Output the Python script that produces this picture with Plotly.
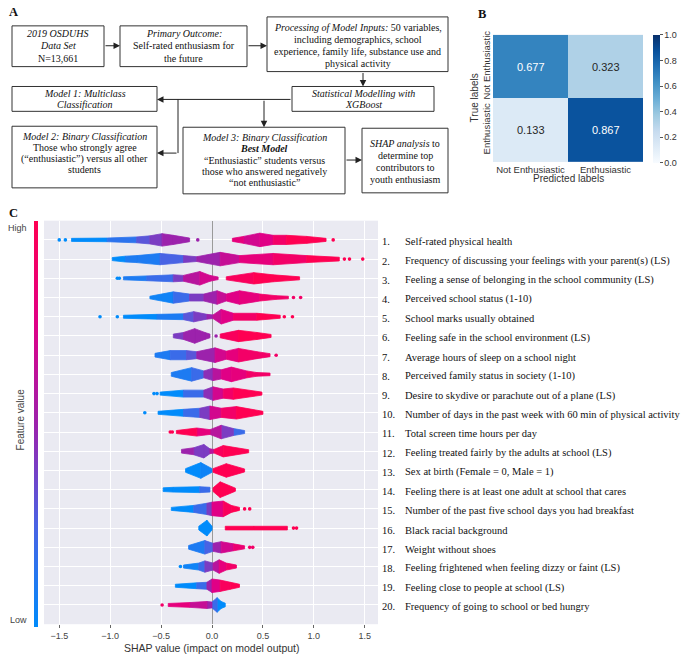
import plotly.graph_objects as go
from plotly.colors import sample_colorscale

W, H = 682, 655

# ---------------- data ----------------
# Panel B: normalised confusion matrix
cm_labels = ["Not Enthusiastic", "Enthusiastic"]
cm_values = [[0.677, 0.323], [0.133, 0.867]]
cm_ticks = [0.0, 0.2, 0.4, 0.6, 0.8, 1.0]

# Panel C: SHAP summary (beeswarm), top 20 features
feature_names = [
    "Self-rated physical health",
    "Frequency of discussing your feelings with your parent(s) (LS)",
    "Feeling a sense of belonging in the school community (LS)",
    "Perceived school status (1-10)",
    "School marks usually obtained",
    "Feeling safe in the school environment (LS)",
    "Average hours of sleep on a school night",
    "Perceived family status in society (1-10)",
    "Desire to skydive or parachute out of a plane (LS)",
    "Number of days in the past week with 60 min of physical activity",
    "Total screen time hours per day",
    "Feeling treated fairly by the adults at school (LS)",
    "Sex at birth (Female = 0, Male = 1)",
    "Feeling there is at least one adult at school that cares",
    "Number of the past five school days you had breakfast",
    "Black racial background",
    "Weight without shoes",
    "Feeling frightened when feeling dizzy or faint (LS)",
    "Feeling close to people at school (LS)",
    "Frequency of going to school or bed hungry",
]

# each feature: clusters of knots [shap value, point density (0-7), mean feature value (0 low .. 1 high)]
swarm_clusters = [
    [[[-1.38, 1.2, 0], [-1.03, 1.5, 0.05], [-0.74, 2.5, 0.25], [-0.61, 3.5, 0.35], [-0.49, 5.5, 0.45], [-0.38, 4, 0.5], [-0.22, 1.5, 0.55]],
     [[0.20, 1.2, 0.8], [0.31, 3, 0.75], [0.47, 6, 0.7], [0.60, 4, 0.85], [0.73, 4, 0.95], [0.93, 3, 1.0], [1.12, 1.2, 1]]],
    [[[-0.98, 1.2, 0], [-0.85, 2.5, 0.05], [-0.74, 3, 0.1], [-0.51, 5, 0.15], [-0.28, 3, 0.35], [-0.15, 2, 0.45], [0.08, 6, 0.55],
      [0.27, 3, 0.75], [0.60, 5, 0.85], [0.93, 3, 1], [1.25, 1.5, 1]]],
    [[[-0.87, 1.2, 0.05], [-0.64, 2, 0.15], [-0.38, 3, 0.3], [-0.28, 2.5, 0.45], [-0.12, 6, 0.7], [-0.02, 2.5, 0.7], [0.06, 1, 0.7]],
     [[0.14, 1.2, 0.9], [0.41, 5, 1], [0.60, 3, 1], [0.86, 1.2, 1]]],
    [[[-0.61, 1, 0], [-0.38, 5, 0.1], [-0.22, 3, 0.35], [-0.08, 3, 0.45], [0.05, 6, 0.6], [0.14, 3, 0.7], [0.27, 6, 0.8],
      [0.47, 3, 0.85], [0.63, 1.5, 0.9], [0.75, 1, 0.9]]],
    [[[-0.87, 1.2, 0], [-0.54, 2, 0.05], [-0.28, 2.5, 0.2], [-0.18, 4.5, 0.4], [-0.05, 2, 0.45], [0.01, 1.5, 0.6], [0.09, 6.5, 0.7],
      [0.21, 3, 0.85], [0.44, 3, 1], [0.67, 1.2, 1]]],
    [[[-0.38, 1.5, 0.4], [-0.28, 3, 0.45], [-0.17, 6.5, 0.5], [-0.07, 3, 0.5], [-0.02, 1.5, 0.5]],
     [[0.08, 1.5, 0.9], [0.26, 5, 1], [0.44, 3, 1], [0.58, 1.2, 1]]],
    [[[-0.56, 1.5, 0.05], [-0.41, 4, 0.1], [-0.25, 4, 0.25], [-0.15, 3, 0.4], [0.03, 6.5, 0.6], [0.14, 3.5, 0.75], [0.26, 6, 0.85],
      [0.44, 3, 0.9], [0.57, 1.2, 0.9]]],
    [[[-0.40, 1.5, 0.05], [-0.20, 6, 0.1], [-0.08, 3, 0.35], [0.01, 5.5, 0.55], [0.09, 4, 0.7], [0.19, 6.5, 0.8], [0.34, 3, 0.85],
      [0.44, 1.5, 0.9], [0.57, 1, 0.9]]],
    [[[-0.51, 1.2, 0], [-0.28, 3, 0.05], [-0.08, 3, 0.3], [0.01, 6, 0.6], [0.11, 4, 0.85], [0.21, 5, 0.95], [0.49, 1.2, 1]]],
    [[[-0.53, 1.2, 0], [-0.28, 3, 0.05], [-0.12, 4, 0.3], [-0.02, 6, 0.55], [0.09, 4, 0.8], [0.24, 5.5, 0.95], [0.50, 1.2, 1]]],
    [[[-0.35, 1.2, 1], [-0.15, 3.5, 0.95], [-0.02, 2, 0.7], [0.09, 6, 0.5], [0.21, 3, 0.3], [0.32, 1.2, 0.15]]],
    [[[-0.30, 1.5, 0.5], [-0.18, 3, 0.45], [-0.08, 6, 0.4], [-0.02, 2, 0.35], [0.02, 1.5, 0.9], [0.11, 5, 1], [0.36, 1.2, 1]]],
    [[[-0.26, 1.5, 0], [-0.11, 7, 0], [0.0, 1.5, 0.1]],
     [[0.01, 1.5, 1], [0.14, 6, 1], [0.32, 1.2, 1]]],
    [[[-0.48, 1.5, 0], [-0.38, 2, 0], [-0.12, 2.5, 0.05], [-0.02, 2, 0.3]],
     [[0.01, 1.5, 1], [0.08, 7, 1], [0.23, 1.2, 1]]],
    [[[-0.40, 1.2, 0], [-0.18, 3, 0.05], [-0.05, 5, 0.3], [0.0, 6, 0.55], [0.11, 7, 0.9], [0.19, 3, 1], [0.27, 1.2, 1]]],
    [[[-0.13, 1.5, 0], [-0.05, 7, 0], [0.0, 1.5, 0]],
     [[0.13, 1.5, 1], [0.41, 1.5, 1], [0.74, 1.5, 1]]],
    [[[-0.23, 1.5, 0.05], [-0.07, 6, 0.15], [0.01, 3.5, 0.35], [0.09, 5, 0.6], [0.21, 3, 0.8], [0.32, 1.2, 0.9]]],
    [[[-0.28, 1.2, 0], [-0.13, 3, 0.1], [-0.07, 5, 0.3], [0.01, 3, 0.5], [0.07, 6, 0.75], [0.14, 3, 0.85], [0.24, 1.2, 0.9]]],
    [[[-0.36, 1.2, 0], [-0.15, 2.5, 0.05], [-0.05, 3, 0.35], [0.0, 6, 0.6], [0.08, 5, 0.9], [0.18, 3, 1], [0.27, 1.2, 1]]],
    [[[-0.43, 1.2, 0.9], [-0.22, 2, 0.75], [-0.05, 3, 0.55], [0.0, 2.5, 0.4], [0.05, 6.5, 0], [0.09, 3, 0], [0.13, 1.5, 0]]],
]

# isolated points per feature: [shap value, feature value]
swarm_outliers = [
    [[-1.50, 0], [-1.44, 0], [-0.14, 0.5], [1.19, 1]],
    [[1.30, 1], [1.35, 1], [1.48, 1]],
    [[-0.93, 0], [-0.91, 0]],
    [[0.80, 0.9], [0.87, 0.9]],
    [[-1.10, 0], [-0.93, 0], [0.71, 1], [0.79, 1]],
    [[0.04, 0.5]],
    [[0.63, 0.9]],
    [],
    [[-0.57, 0], [-0.54, 0]],
    [[-0.66, 0]],
    [[-0.41, 1], [-0.39, 1]],
    [],
    [],
    [],
    [[0.32, 1], [0.37, 1]],
    [[0.80, 1], [0.83, 1]],
    [[0.37, 0.9], [0.40, 0.9]],
    [[-0.31, 0]],
    [],
    [[-0.49, 0.9]],
]

shap_ticks = [-1.5, -1.0, -0.5, 0.0, 0.5, 1.0, 1.5]

# Panel A: flowchart text
flow_text = {
    "data": ["<i>2019 OSDUHS</i>", "<i>Data Set</i>", "N=13,661"],
    "outcome": ["<i>Primary Outcome:</i>", "Self-rated enthusiasm for", "the future"],
    "inputs": ["<i>Processing of Model Inputs:</i> 50 variables,", "including demographics, school",
               "experience, family life, substance use and", "physical activity"],
    "xgb": ["<i>Statistical Modelling with</i>", "<i>XGBoost</i>"],
    "m1": ["<i>Model 1: Multiclass</i>", "<i>Classification</i>"],
    "m2": ["<i>Model 2: Binary Classification</i>", "Those who strongly agree",
           "(\u201centhusiastic\u201d) versus all other", "students"],
    "m3": ["<i>Model 3: Binary Classification</i>", "<b><i>Best Model</i></b>",
           "\u201cEnthusiastic\u201d students versus", "those who answered negatively",
           "\u201cnot enthusiastic\u201d"],
    "shap": ["<i>SHAP analysis</i> to", "determine top", "contributors to", "youth enthusiasm"],
}

# ---------------- layout geometry (pixels) ----------------
box_geom = {  # x0, y0, x1, y1, first line y, line step
    "data": (12, 22, 104, 63, 30, 12.2),
    "outcome": (120, 22, 247, 63, 30, 12.2),
    "inputs": (267, 13, 448, 68, 23.5, 12),
    "xgb": (292, 83, 434, 108, 90, 11.5),
    "m1": (12, 83, 157, 108, 90, 11.5),
    "m2": (12, 123, 157, 185, 133.5, 11),
    "m3": (183, 124, 345, 191, 134, 11.5),
    "shap": (362, 125, 448, 190, 140.5, 12),
}

SHAP_SCALE = [[0.0, "rgb(0,139,251)"], [0.25, "rgb(73,99,228)"], [0.5, "rgb(156,34,172)"],
              [0.75, "rgb(224,0,134)"], [1.0, "rgb(255,0,82)"]]
BLUES = [[0.0, "rgb(247,251,255)"], [0.125, "rgb(222,235,247)"], [0.25, "rgb(198,219,239)"],
         [0.375, "rgb(158,202,225)"], [0.5, "rgb(107,174,214)"], [0.625, "rgb(66,146,198)"],
         [0.75, "rgb(33,113,181)"], [0.875, "rgb(8,81,156)"], [1.0, "rgb(8,48,107)"]]

SERIF = "Liberation Serif, Times New Roman, serif"
SANS = "Liberation Sans, Arial, sans-serif"


def px(x):
    return x / W


def py(y):
    return 1 - y / H


fig = go.Figure()
shapes = []
ann = []

# ---------------- Panel A ----------------
for key, (x0, y0, x1, y1, ly, step) in box_geom.items():
    shapes.append(dict(type="rect", xref="paper", yref="paper", x0=px(x0), x1=px(x1), y0=py(y1), y1=py(y0),
                       line=dict(color="#333", width=1), fillcolor="white", layer="below"))
    for i, t in enumerate(flow_text[key]):
        ann.append(dict(xref="paper", yref="paper", x=px((x0 + x1) / 2), y=py(ly + i * step), text=t,
                        showarrow=False, xanchor="center", yanchor="middle",
                        font=dict(family=SERIF, size=10, color="#111")))


def arrow(x0, y0, x1, y1):
    ann.append(dict(xref="paper", yref="paper", x=px(x1), y=py(y1), ax=x0 - x1, ay=y0 - y1,
                    axref="pixel", ayref="pixel", text="", showarrow=True, arrowhead=2,
                    arrowsize=1.3, arrowwidth=1, arrowcolor="#222", standoff=0))


def seg(x0, y0, x1, y1):
    shapes.append(dict(type="line", xref="paper", yref="paper", x0=px(x0), y0=py(y0), x1=px(x1), y1=py(y1),
                       line=dict(color="#222", width=1)))


arrow(104, 42, 120, 42)
arrow(247, 42, 267, 42)
arrow(363, 68, 363, 83)
arrow(292, 96, 157, 96)
seg(178, 96, 178, 150)
arrow(178, 150, 157, 150)
arrow(264, 96, 264, 124)
arrow(345, 157, 362, 157)

for lab, (x, y) in {"A": (7, 8), "B": (476, 10), "C": (7, 210)}.items():
    ann.append(dict(xref="paper", yref="paper", x=px(x), y=py(y), text=f"<b>{lab}</b>", showarrow=False,
                    xanchor="left", yanchor="middle", font=dict(family=SERIF, size=12.5, color="#111")))

# ---------------- Panel B ----------------
fig.add_trace(go.Heatmap(
    z=cm_values, x=cm_labels, y=cm_labels, colorscale=BLUES, zmin=0, zmax=1,
    xaxis="x2", yaxis="y2", hoverinfo="skip",
    colorbar=dict(x=px(653), xanchor="left", y=py(31), yanchor="top", len=128, lenmode="pixels",
                  thickness=7, thicknessmode="pixels", outlinewidth=0, xpad=0, ypad=0,
                  ticks="outside", ticklen=3, tickcolor="#555", tickvals=cm_ticks, tickformat=".1f",
                  tickfont=dict(family=SANS, size=9, color="#333")),
))
for i, row in enumerate(cm_values):
    for j, v in enumerate(row):
        ann.append(dict(xref="x2", yref="y2", x=cm_labels[j], y=cm_labels[i], text=f"{v:.3f}",
                        showarrow=False, font=dict(family=SANS, size=11, color="white" if v > 0.5 else "#262626")))
ann.append(dict(xref="paper", yref="paper", x=px(568), y=py(176), text="Predicted labels", showarrow=False,
                font=dict(family=SANS, size=10, color="#333"), xanchor="center", yanchor="middle"))
ann.append(dict(xref="paper", yref="paper", x=px(474), y=py(95), text="True labels", showarrow=False,
                textangle=-90, font=dict(family=SANS, size=10, color="#333"), xanchor="center", yanchor="middle"))

# ---------------- Panel C ----------------
ROW_PX = 406 / 21
groups = {}
for r, clusters in enumerate(swarm_clusters):
    yc = r + 1
    for cl in clusters:
        for (x0, d0, c0), (x1, d1, c1) in zip(cl[:-1], cl[1:]):
            h0, h1 = (1.1 * d0 + 0.2) / ROW_PX, (1.1 * d1 + 0.2) / ROW_PX
            cb = round((c0 + c1) / 2 * 20) / 20
            gx, gy = groups.setdefault(cb, ([], []))
            gx.extend([x0, x1, x1, x0, x0, None])
            gy.extend([yc - h0, yc - h1, yc + h1, yc + h0, yc - h0, None])

for cb in sorted(groups):
    col = sample_colorscale(SHAP_SCALE, [cb])[0]
    gx, gy = groups[cb]
    fig.add_trace(go.Scatter(x=gx, y=gy, mode="lines", fill="toself", fillcolor=col,
                             line=dict(color=col, width=0.8), hoverinfo="skip", showlegend=False,
                             xaxis="x", yaxis="y"))

ox, oy, oc = [], [], []
for r, pts in enumerate(swarm_outliers):
    for s, c in pts:
        ox.append(s)
        oy.append(r + 1)
        oc.append(c)
fig.add_trace(go.Scatter(
    x=ox, y=oy, mode="markers", hoverinfo="skip", showlegend=False, xaxis="x", yaxis="y",
    marker=dict(size=3.6, color=oc, colorscale=SHAP_SCALE, cmin=0, cmax=1, showscale=True,
                colorbar=dict(x=px(34), xanchor="left", y=py(218), yanchor="top", len=406, lenmode="pixels",
                              thickness=3.5, thicknessmode="pixels", outlinewidth=0, xpad=0, ypad=0,
                              showticklabels=False, ticks="")),
))

for i, name in enumerate(feature_names):
    ann.append(dict(xref="paper", yref="y", x=px(380), y=i + 1.1, text=f"{i + 1}.", showarrow=False,
                    xanchor="left", yanchor="middle", font=dict(family=SERIF, size=10.5, color="#111")))
    ann.append(dict(xref="paper", yref="y", x=px(403), y=i + 1.1, text=name, showarrow=False,
                    xanchor="left", yanchor="middle", font=dict(family=SERIF, size=10.5, color="#111")))

ann.append(dict(xref="paper", yref="paper", x=px(29), y=py(225), text="High", showarrow=False,
                xanchor="right", yanchor="middle", font=dict(family=SANS, size=9, color="#444")))
ann.append(dict(xref="paper", yref="paper", x=px(29), y=py(620), text="Low", showarrow=False,
                xanchor="right", yanchor="middle", font=dict(family=SANS, size=9, color="#444")))
ann.append(dict(xref="paper", yref="paper", x=px(20), y=py(418), text="Feature value", showarrow=False,
                textangle=-90, xanchor="center", yanchor="middle", font=dict(family=SANS, size=10, color="#444")))
ann.append(dict(xref="paper", yref="paper", x=px(211), y=py(648), text="SHAP value (impact on model output)",
                showarrow=False, xanchor="center", yanchor="middle", font=dict(family=SANS, size=10.5, color="#333")))

fig.update_layout(
    width=W, height=H, margin=dict(l=0, r=0, t=0, b=0),
    paper_bgcolor="white", plot_bgcolor="#eaeaf2", showlegend=False,
    xaxis=dict(domain=[px(44), px(378)], anchor="y", range=[-1.65, 1.63], tickvals=shap_ticks,
               tickformat=".1f", ticks="outside", ticklen=3, tickcolor="#666",
               tickfont=dict(family=SANS, size=9, color="#444"), showgrid=True, gridcolor="white",
               gridwidth=1, zeroline=True, zerolinecolor="#9a9a9a", zerolinewidth=1, showline=False),
    yaxis=dict(domain=[py(624), py(218)], anchor="x", range=[21, 0], tickvals=list(range(1, 21)),
               showticklabels=False, ticks="", showgrid=True, gridcolor="white", gridwidth=1,
               zeroline=False, showline=False),
    xaxis2=dict(domain=[px(493), px(643)], anchor="y2", showgrid=False, zeroline=False, ticks="",
                tickfont=dict(family=SANS, size=9.5, color="#333"), showline=False),
    yaxis2=dict(domain=[py(159), py(31)], anchor="x2", autorange="reversed", showgrid=False, zeroline=False,
                ticks="", tickangle=-90, tickfont=dict(family=SANS, size=9.5, color="#333"), showline=False),
    shapes=shapes, annotations=ann,
)

fig.write_html("out.html", config={"displayModeBar": False},
               post_script="document.body.style.margin='0px';document.body.style.overflow='hidden';")
